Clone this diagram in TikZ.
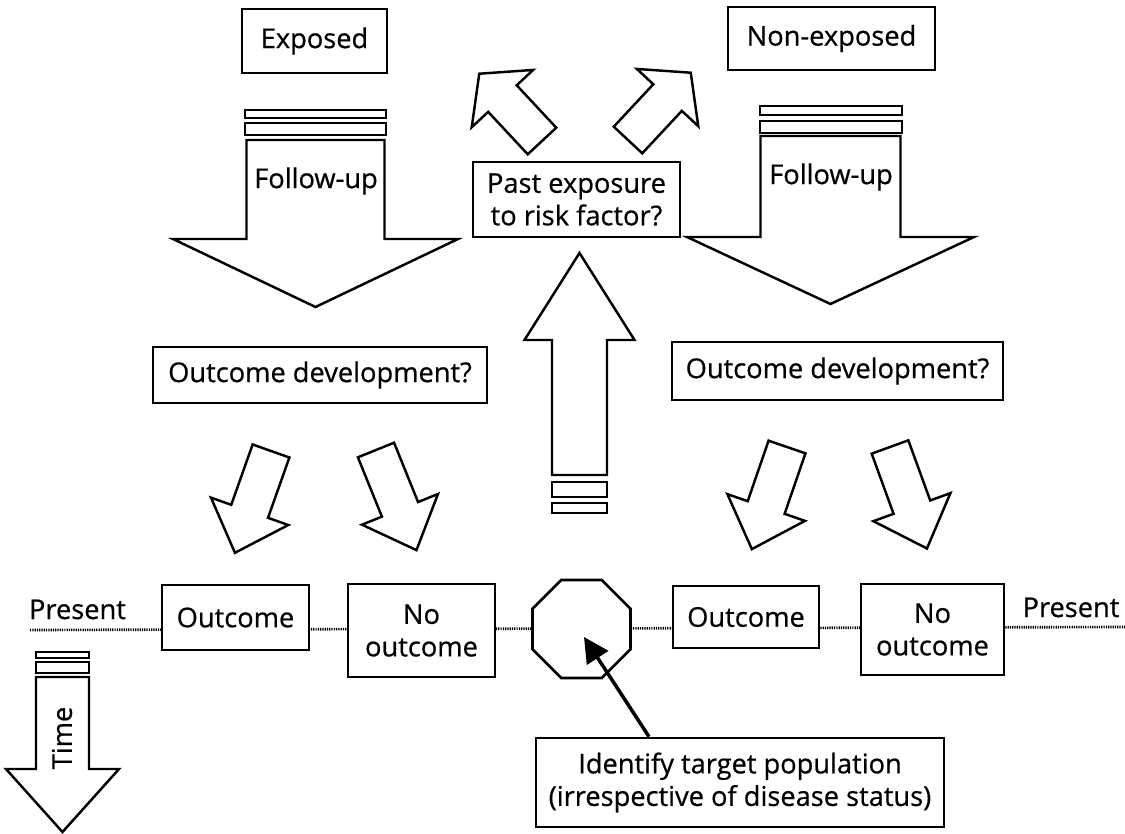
\documentclass[tikz,border=0pt]{standalone}
\usepackage{fontspec}
\setmainfont{Open Sans}[FakeBold=0.6]
\usetikzlibrary{shapes.geometric,arrows.meta,positioning}

\tikzset{
  box/.style={draw,line width=1.5pt,fill=white,align=center,inner sep=2pt},
  fat/.style={draw,line width=1.4pt,fill=white,line join=miter},
  stripe/.style={draw,line width=1.3pt,fill=white},
  timeline/.style={line width=1.5pt,dash pattern=on 0.7pt off 0.6pt},
  pointer/.style={line width=2pt,-{Triangle[length=5mm,width=5mm]}}
}
% block arrow: tail, angle, shaft length, half shaft, head length, half head
\newcommand{\blockarrow}[6]{%
  \draw[fat,shift={#1},rotate=#2] (0,-#4) -- (#3,-#4) -- (#3,-#6) -- ({#3+#5},0)
    -- (#3,#6) -- (#3,#4) -- (0,#4) -- cycle;}

\begin{document}
\begin{tikzpicture}[x=0.02cm,y=0.02cm,font=\fontsize{15.5}{18.5}\selectfont]
  \useasboundingbox (0,0) rectangle (1125,-834);

  % present line
  \draw[timeline] (30,-630) -- (1125,-627);

  % exposed side
  \node[box,minimum width=2.9cm,minimum height=1.28cm] (exp) at (314.5,-41) {Exposed};
  \draw[stripe] (245,-110) rectangle (386,-118) (245,-123) rectangle (386,-135);
  \blockarrow{(315.5,-140)}{-90}{99}{69}{68}{142.5}
  \node (fuL) at (316,-181) {Follow-up};

  % non-exposed side
  \node[box,minimum width=4.14cm,minimum height=1.26cm] (nonexp) at (831.5,-38.5) {Non-exposed};
  \draw[stripe] (760,-106) rectangle (902,-115) (760,-121) rectangle (902,-133);
  \blockarrow{(830.5,-136)}{-90}{101}{70}{67}{143.5}
  \node (fuR) at (831,-177) {Follow-up};

  % middle
  \node[box,minimum width=4.14cm,minimum height=1.5cm] (past) at (576.5,-199.5) {Past exposure\\to risk factor?};
  \blockarrow{(542,-141)}{133}{58}{19.5}{34}{42}
  \blockarrow{(628,-140)}{47}{58}{19.5}{34}{42}
  \blockarrow{(579.5,-475)}{90}{135}{27.5}{87}{55}
  \draw[stripe] (552,-482) rectangle (607,-497) (552,-503) rectangle (607,-513);

  \node[box,minimum width=6.68cm,minimum height=1.12cm] (devL) at (320,-375) {Outcome development?};
  \node[box,minimum width=6.62cm,minimum height=1.16cm] (devR) at (837.5,-371) {Outcome development?};

  \blockarrow{(271,-451)}{-109.5}{64}{19.5}{44}{41}
  \blockarrow{(376,-450)}{-68}{64}{19.5}{44}{41}
  \blockarrow{(787,-447)}{-109}{64}{19.5}{44}{41}
  \blockarrow{(890,-447)}{-70}{64}{19.5}{44}{41}

  % present row
  \node[anchor=base] (presL) at (77.5,-619) {Present};
  \node[anchor=base] (presR) at (1071,-617) {Present};
  \node[box,minimum width=2.94cm,minimum height=1.3cm] (outL) at (235.5,-617.5) {Outcome};
  \node[box,minimum width=2.94cm,minimum height=1.86cm] (noL) at (421.5,-630.5) {No\\outcome};
  \node[draw,line width=1.5pt,fill=white,regular polygon,regular polygon sides=8,
        minimum size=2.12cm,inner sep=0pt] (oct) at (581.5,-629) {};
  \node[box,minimum width=2.92cm,minimum height=1.24cm] (outR) at (746,-617) {Outcome};
  \node[box,minimum width=2.86cm,minimum height=1.82cm] (noR) at (932.5,-629.5) {No\\outcome};

  \node[box,minimum width=8.16cm,minimum height=1.78cm] (ident) at (740,-782.5)
       {Identify target population\\(irrespective of disease status)};
  \draw[pointer] ([xshift=-1.82cm]ident.north) -- ([shift={(0.05cm,-0.16cm)}]oct.center);

  % time
  \draw[stripe] (36,-652) rectangle (89,-658) (36,-662) rectangle (89,-673);
  \blockarrow{(62.5,-677)}{-90}{92}{26.5}{63}{56.5}
  \node[rotate=90] (time) at (62,-738) {Time};
\end{tikzpicture}
\end{document}
